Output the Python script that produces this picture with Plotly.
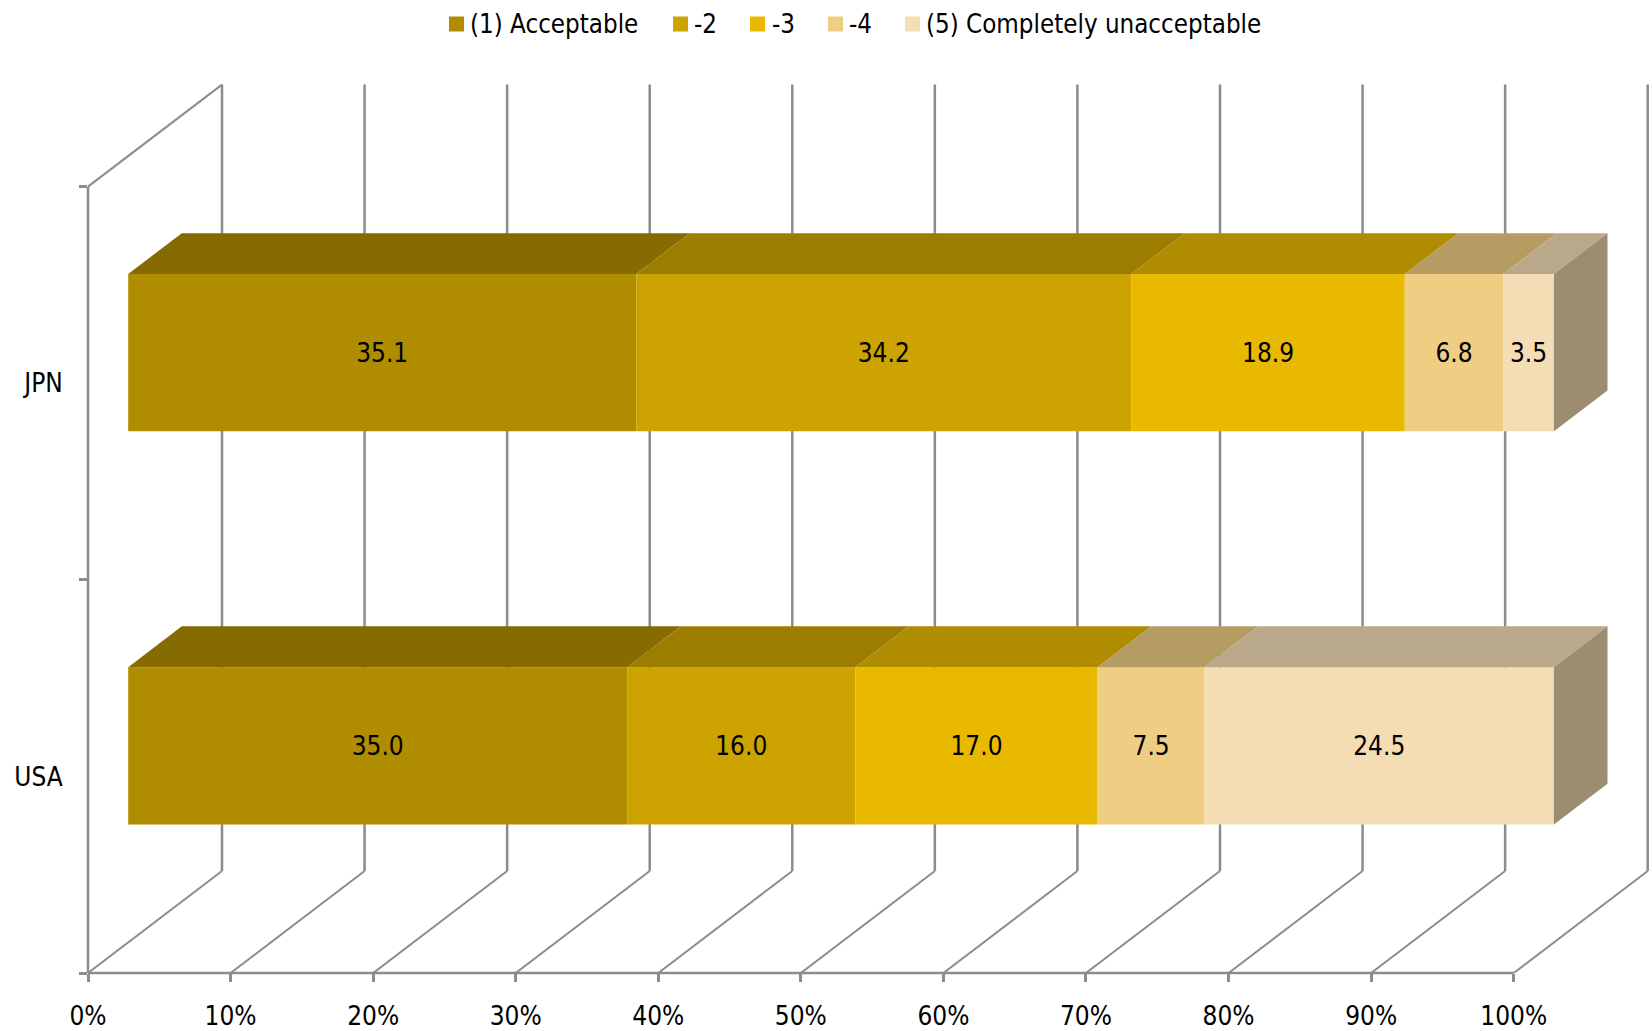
import plotly.graph_objects as go

# Survey responses by country (percent of respondents, as labelled on the bars)
countries = ["USA", "JPN"]
level_names = ["(1) Acceptable", "-2", "-3", "-4", "(5) Completely unacceptable"]
level_1 = [35.0, 35.1]
level_2 = [16.0, 34.2]
level_3 = [17.0, 18.9]
level_4 = [7.5, 6.8]
level_5 = [24.5, 3.5]
levels = [level_1, level_2, level_3, level_4, level_5]
x_ticks = [0, 10, 20, 30, 40, 50, 60, 70, 80, 90, 100]

front_colors = ["#AF8C00", "#CCA300", "#E9B900", "#EFCD82", "#F4DDB4"]
top_colors = ["#866B00", "#9C7D00", "#AF8C00", "#B59C62", "#B9A98A"]
side_color = "#9C8C70"
axis_color = "#8C8C8C"
font_family = "'DejaVu Sans Condensed', 'Noto Sans', sans-serif"
font_size = 26
key_font_size = 25.7

# Plot geometry in pixels, used to derive the axis ranges
WIDTH, HEIGHT = 1652, 1031
LEFT, BOTTOM_Y, TOP_Y = 88, 973, 50
PX_PER_PCT = 14.257
PX_PER_BAND = 393.2

# Key layout: left edge of each swatch and of each label, in pixels
KEY_SWATCH_X = [449, 673, 750, 828, 905]
KEY_TEXT_X = [470, 694, 772, 849, 926]
KEY_CENTER_Y = 24
KEY_SWATCH = 15

# Oblique projection of the chart box: depth 0 is the front, depth 1 the back wall
DEPTH_X = 134 / PX_PER_PCT
DEPTH_Y = 102 / PX_PER_BAND
BAR_FRONT, BAR_BACK = 0.3, 0.7
BAR_HEIGHT = 0.4


def project(x, y, depth):
    return x + depth * DEPTH_X, y + depth * DEPTH_Y


def grid_line(start, end, width):
    (x0, y0), (x1, y1) = project(*start), project(*end)
    return dict(type="line", xref="x", yref="y", x0=x0, y0=y0, x1=x1, y1=y1,
                layer="below", line=dict(color=axis_color, width=width))


def paper_x(px):
    return (px - LEFT) / (WIDTH - LEFT)


def paper_y(py):
    return (BOTTOM_Y - py) / (BOTTOM_Y - TOP_Y)


# Front axis lines use paper coordinates so they are not clipped at the plot edge
shapes = [
    dict(type="line", xref="paper", yref="paper", x0=0, y0=0,
         x1=100 * PX_PER_PCT / (WIDTH - LEFT), y1=0, layer="below",
         line=dict(color=axis_color, width=2.5)),
    dict(type="line", xref="paper", yref="paper", x0=0, y0=0, x1=0,
         y1=2 * PX_PER_BAND / (BOTTOM_Y - TOP_Y), layer="below",
         line=dict(color=axis_color, width=2.5)),
    grid_line((0, 2, 0), (0, 2, 1), 2),
]
for tick in x_ticks:
    shapes.append(grid_line((tick, 0, 0), (tick, 0, 1), 2))
    shapes.append(grid_line((tick, 0, 1), (tick, 2, 1), 2.5))

fig = go.Figure()


def polygon(corners, color):
    points = [project(*c) for c in corners]
    xs = [p[0] for p in points] + [points[0][0]]
    ys = [p[1] for p in points] + [points[0][1]]
    fig.add_trace(go.Scatter(x=xs, y=ys, mode="lines", fill="toself", fillcolor=color,
                             line=dict(width=0, color=color), hoverinfo="skip",
                             showlegend=False))


totals = [sum(level[i] for level in levels) for i in range(len(countries))]
cumulative = [0.0] * len(countries)
for name, values, front, top in zip(level_names, levels, front_colors, top_colors):
    shares = [v / t * 100 for v, t in zip(values, totals)]
    bases = [c + BAR_FRONT * DEPTH_X for c in cumulative]
    centers = [i + 0.5 + BAR_FRONT * DEPTH_Y for i in range(len(countries))]
    fig.add_trace(go.Bar(
        orientation="h", x=shares, base=bases, y=centers, width=BAR_HEIGHT,
        name=name, marker=dict(color=front, line=dict(width=0)),
        text=[f"{v:.1f}" for v in values], textposition="inside",
        insidetextanchor="middle", textangle=0, constraintext="none",
        textfont=dict(color="black", size=font_size, family=font_family),
        showlegend=False,
    ))
    for i, (start, share) in enumerate(zip(cumulative, shares)):
        upper = i + 0.5 + BAR_HEIGHT / 2
        polygon([(start, upper, BAR_FRONT), (start + share, upper, BAR_FRONT),
                 (start + share, upper, BAR_BACK), (start, upper, BAR_BACK)], top)
    cumulative = [c + s for c, s in zip(cumulative, shares)]

# Right-hand end caps of the stacks
for i, end in enumerate(cumulative):
    lower, upper = i + 0.5 - BAR_HEIGHT / 2, i + 0.5 + BAR_HEIGHT / 2
    polygon([(end, lower, BAR_FRONT), (end, upper, BAR_FRONT),
             (end, upper, BAR_BACK), (end, lower, BAR_BACK)], side_color)

# Colour key above the plot: square swatches with tightly spaced labels
annotations = []
half = KEY_SWATCH / 2
for name, front, sx, tx in zip(level_names, front_colors, KEY_SWATCH_X, KEY_TEXT_X):
    shapes.append(dict(type="rect", xref="paper", yref="paper", x0=paper_x(sx),
                       x1=paper_x(sx + KEY_SWATCH), y0=paper_y(KEY_CENTER_Y + half),
                       y1=paper_y(KEY_CENTER_Y - half), fillcolor=front, line=dict(width=0)))
    annotations.append(dict(text=name, xref="paper", yref="paper", x=paper_x(tx),
                            y=paper_y(KEY_CENTER_Y), xanchor="left", yanchor="middle",
                            showarrow=False, borderpad=0, borderwidth=0,
                            font=dict(size=key_font_size, color="black")))

fig.update_layout(
    width=WIDTH, height=HEIGHT, paper_bgcolor="white", plot_bgcolor="white",
    barmode="overlay", font=dict(family=font_family, size=font_size, color="black"),
    margin=dict(l=LEFT, r=0, t=TOP_Y, b=HEIGHT - BOTTOM_Y, pad=0),
    shapes=shapes, annotations=annotations, showlegend=False,
    xaxis=dict(range=[0, (WIDTH - LEFT) / PX_PER_PCT], tickmode="array", tickvals=x_ticks,
               ticktext=[f"{t}%" for t in x_ticks], showgrid=False, zeroline=False,
               showline=False, ticks="outside", ticklen=8, tickwidth=2.5, tickcolor=axis_color,
               ticklabelstandoff=12),
    yaxis=dict(range=[0, (BOTTOM_Y - TOP_Y) / PX_PER_BAND], tickmode="array",
               tickvals=[0.5, 1.5], ticktext=countries, showgrid=False, zeroline=False,
               showline=False, ticks="outside", ticklen=19, tickwidth=1,
               tickcolor="rgba(0,0,0,0)",
               minor=dict(tickmode="array", tickvals=[0, 1, 2], ticks="outside", ticklen=8,
                          tickwidth=2.5, tickcolor=axis_color, showgrid=False)),
)

fig.write_html("out.html")
